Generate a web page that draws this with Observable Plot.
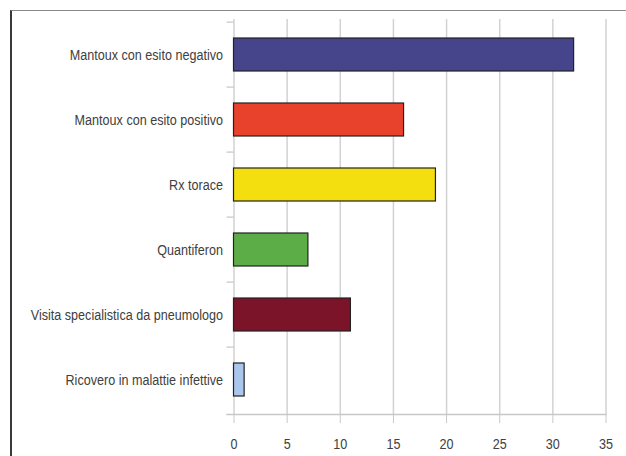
<!DOCTYPE html>
<html>
<head>
<meta charset="utf-8">
<script src="https://cdn.jsdelivr.net/npm/d3@7"></script>
<script src="https://cdn.jsdelivr.net/npm/@observablehq/plot@0.6"></script>
<style>
  html, body { margin: 0; padding: 0; background: #fff; }
  #wrap { position: relative; width: 626px; height: 456px; overflow: hidden; }
  #frame { position: absolute; left: 10px; top: 10px; width: 620px; height: 450px;
           border-top: 1px solid #8a8a8a; border-left: 2px solid #3a3a3a; pointer-events: none; }
</style>
</head>
<body>
<div id="wrap"><div id="frame"></div></div>
<script>
const categories = [
  "Mantoux con esito negativo",
  "Mantoux con esito positivo",
  "Rx torace",
  "Quantiferon",
  "Visita specialistica da pneumologo",
  "Ricovero in malattie infettive"
];
const values = [32, 16, 19, 7, 11, 1];
const colors = ["#46448a", "#e8412c", "#f3de10", "#5cad47", "#7b1428", "#aac6ec"];
const xTicks = [0, 5, 10, 15, 20, 25, 30, 35];

const data = categories.map((c, i) => ({category: c, value: values[i]}));

const marginTop = 19, marginBottom = 42, H = 456;
const step = (H - marginTop - marginBottom) / categories.length;

const chart = Plot.plot({
  width: 626,
  height: H,
  marginLeft: 233.5,
  marginRight: 20.5,
  marginTop,
  marginBottom,
  style: {fontFamily: "'Liberation Sans', Arial, sans-serif", fontSize: "15px", color: "#404040", background: "transparent"},
  x: {domain: [0, 35], label: null},
  y: {domain: categories, paddingInner: 0.5, paddingOuter: 0.25, label: null},
  color: {domain: categories, range: colors},
  marks: [
    Plot.gridX({ticks: xTicks, stroke: "#d2d2d2", strokeOpacity: 1, strokeWidth: 1.5}),
    Plot.frame({anchor: "bottom", stroke: "#c8c8c8", strokeWidth: 1.5, insetLeft: -7}),
    Plot.axisX({ticks: xTicks, tickSize: 9, tickPadding: 15, stroke: "#c8c8c8", label: null}),
    Plot.axisY({tickSize: 7, tickFormat: () => "", dy: -step / 2, stroke: "#bbbbbb", label: null}),
    Plot.axisY({tickSize: 0, tickPadding: 11, label: null}),
    Plot.barX(data, {x: "value", y: "category", fill: "category", stroke: "#222", strokeWidth: 1.2})
  ]
});
// condense the label glyphs horizontally (narrow typeface look), keeping each anchor in place
chart.querySelectorAll('g[aria-label="y-axis tick label"] text, g[aria-label="x-axis tick label"] text').forEach(t => {
  const tr = t.getAttribute("transform") || "";
  t.setAttribute("transform", (tr + " scale(0.84,1)").trim());
});
document.getElementById("wrap").prepend(chart);
</script>
</body>
</html>
